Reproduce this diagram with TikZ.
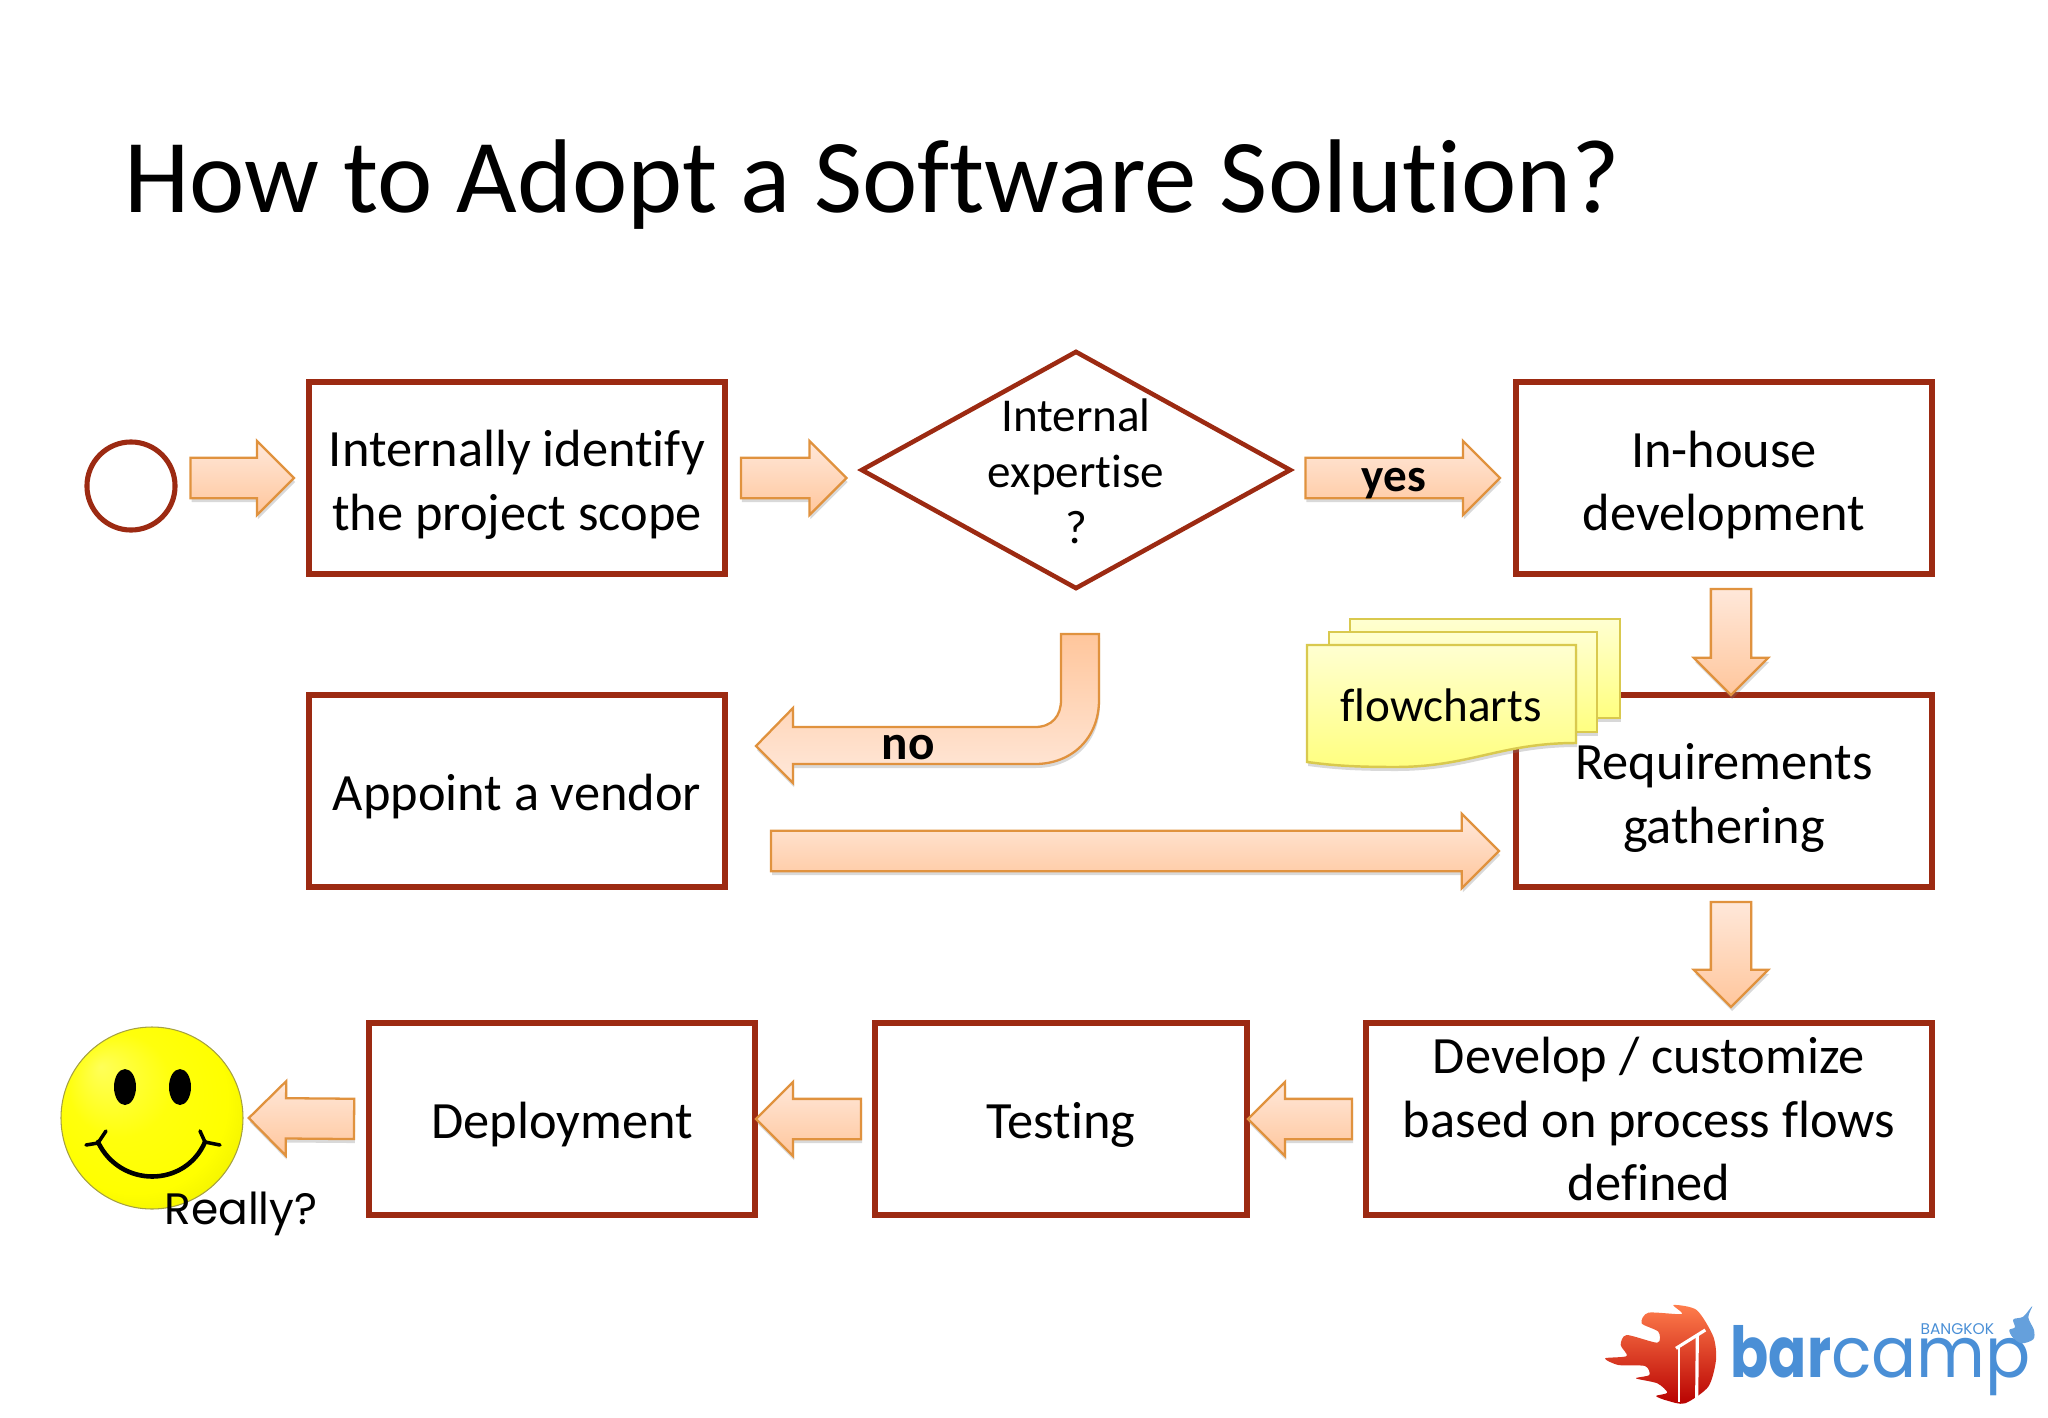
\documentclass[tikz,border=0pt]{standalone}
\usepackage{fontspec}
\setmainfont{Carlito}[Ligatures=NoCommon]
\newfontfamily\logofont{Poppins}
\usetikzlibrary{calc,shapes.geometric,shapes.arrows,shadows}

\definecolor{boxred}{HTML}{9C2A12}
\definecolor{flowline}{HTML}{E0923E}
\definecolor{flowlight}{HTML}{FFE8DA}
\definecolor{flowdark}{HTML}{FFC69C}
\definecolor{noteline}{HTML}{D9C94E}
\definecolor{logoblue}{HTML}{4A8FD6}

\pgfdeclareradialshading{smileball}{\pgfpoint{-.5cm}{.5cm}}{
	color(0cm)=(yellow!65!white); color(.5cm)=(yellow!95!white); color(.9cm)=(yellow); color(1.35cm)=(yellow!88!black)}

\tikzset{
	stepbox/.style={draw=boxred, line width=1.6pt, fill=white, inner sep=0, align=center, font=\fontsize{14.9}{18}\selectfont, execute at begin node=\rule{0pt}{.47cm}},
	twolines/.style={execute at begin node=\rule{0pt}{1.13cm}},
	flowshape/.style={single arrow, single arrow head extend=.17cm, single arrow tip angle=90, minimum width=.72cm, inner sep=0, outer sep=0, anchor=tail,
		draw=flowline, line width=.65pt, top color=flowlight, bottom color=flowdark, drop shadow={shadow xshift=.01cm, shadow yshift=-.04cm, opacity=.3}},
	flowarrow/.style 2 args={to path={let \p1=($(\tikztostart)!#1!(\tikztotarget)$), \p2=($(\tikztotarget)!#2!(\tikztostart)$), \n1={atan2(\y2-\y1,\x2-\x1)}, \n2={veclen(\x2-\x1,\y2-\y1)} in
		node[flowshape, rotate=\n1, minimum height=\n2] at (\p1) {\rule{0pt}{.38cm}} (\tikztotarget)}},
	notepage/.style={draw=noteline, line width=.7pt, top color=yellow!18!white, bottom color=yellow!50!white},
	flowtext/.style={inner sep=0, font=\fontsize{13.4}{15.9}\selectfont, align=center},
	smileline/.style={line width=1pt, line cap=round}
}

\begin{document}
\begin{tikzpicture}[x=.01cm, y=-.01cm]

\useasboundingbox (0,0) rectangle (2048,1418);

\node[inner sep=0, anchor=base west, font=\fontsize{29.8}{32}\selectfont] (title) at (124,212) {How to Adopt a Software Solution?};

\node[circle, draw=boxred, line width=1.45pt, minimum size=.88cm, inner sep=0] (start) at (131,486) {};
\node[stepbox, twolines, minimum width=4.16cm, minimum height=1.92cm] (scope) at (517,478) {Internally identify\\the project scope};
\node[diamond, draw=boxred, line width=1.3pt, fill=white, minimum width=4.3cm, minimum height=2.38cm, inner sep=0] (expertise) at (1076,470) {};
\node[flowtext] (expertisetext) at (1076,471) {Internal\\expertise\\?};
\node[stepbox, twolines, minimum width=4.16cm, minimum height=1.92cm] (inhouse) at (1724,478) {In-house\\development};
\node[stepbox, minimum width=4.16cm, minimum height=1.92cm] (vendor) at (517,791) {Appoint a vendor};
\node[stepbox, twolines, minimum width=4.16cm, minimum height=1.92cm] (require) at (1724,791) {Requirements\\gathering};
\node[stepbox, minimum width=5.66cm, minimum height=1.92cm] (develop) at (1649,1119) {Develop / customize\\based on process flows\\defined};
\node[stepbox, minimum width=3.72cm, minimum height=1.92cm] (testing) at (1061,1119) {Testing};
\node[stepbox, minimum width=3.86cm, minimum height=1.92cm] (deploy) at (562,1119) {Deployment};

\shade[shading=smileball, draw=yellow!60!black, line width=.3pt] (152,1118) circle[radius=91];
\node[circle, inner sep=0, minimum size=1.82cm] (smile) at (152,1118) {};
\fill (125,1087) ellipse[x radius=11, y radius=18];
\fill (180,1087) ellipse[x radius=11, y radius=18];
\draw[smileline, line width=1.3pt] (98,1142) .. controls (120,1188) and (185,1188) .. (205,1142);
\draw[smileline] (86,1145) -- (98,1143) -- (106,1131);
\draw[smileline] (200,1131) -- (205,1142) -- (220,1145);
\node[inner sep=0, anchor=base, font=\logofont\fontsize{12.5}{14}\selectfont] (really) at (241,1224) {Really?};

\coordinate (inhouseout) at (1731,589);
\coordinate (requirein) at (1731,695);
\coordinate (requireout) at (1731,902);
\coordinate (developin) at (1731,1007);
\coordinate (vendorout) at (771,851);
\coordinate (requireleft) at (1499,851);

\draw[flowarrow={.13cm}{.12cm}] (start.east|-scope.west) to (scope.west);
\draw[flowarrow={.13cm}{.12cm}] (scope.east) to (expertise.west|-scope.east);
\draw[flowarrow={.12cm}{.13cm}] (expertise.east|-inhouse.west) to (inhouse.west);
\draw[flowarrow={0cm}{0cm}] (inhouseout) to (requirein);
\draw[flowarrow={0cm}{0cm}] (vendorout) to (requireleft);
\draw[flowarrow={0cm}{0cm}] (requireout) to (developin);
\foreach \a/\b in {develop/testing, testing/deploy}
	\draw[flowarrow={.11cm}{-.02cm}] (\a.west) to (\b.east);
\draw[flowarrow={.12cm}{.05cm}] (deploy.west) to (smile.east);

\shade[draw=flowline, line width=.65pt, top color=flowdark, bottom color=flowlight, drop shadow={shadow xshift=.01cm, shadow yshift=-.04cm, opacity=.3}]
	(1061,634) -- (1099,634) -- (1099,700) .. controls (1099,738) and (1072,764) .. (1035,764) -- (793,764) -- (793,783) -- (756,746) -- (793,708) -- (793,727) -- (1035,727) .. controls (1052,727) and (1061,716) .. (1061,700) -- cycle;

\node[inner sep=0, font=\fontsize{13.4}{15}\bfseries\selectfont] (yes) at (1394,484) {yes};
\node[inner sep=0, font=\fontsize{14}{16}\bfseries\selectfont] (no) at (908,748) {no};

\path[notepage, drop shadow={shadow xshift=.01cm, shadow yshift=-.04cm, opacity=.3}] (1350,619) -- (1620,619) -- (1620,718) -- (1350,718) -- cycle;
\path[notepage, drop shadow={shadow xshift=.01cm, shadow yshift=-.04cm, opacity=.3}] (1329,632) -- (1597,632) -- (1597,732) -- (1329,732) -- cycle;
\path[notepage, drop shadow={shadow xshift=.01cm, shadow yshift=-.04cm, opacity=.3}] (1307,645) -- (1576,645) -- (1576,743) .. controls (1500,743) and (1470,767) .. (1395,767) .. controls (1350,767) and (1330,765) .. (1307,762) -- cycle;
\node[flowtext] (flowcharts) at (1441,705) {flowcharts};

\begin{scope}[shift={(1580,1280)}, scale=.3333]
\shade[top color=orange!55!red!70!white, middle color=red!70!orange, bottom color=red!72!black]
	plot[smooth cycle, tension=.45] coordinates {(280,75) (350,90) (400,170) (408,240) (385,320) (315,370) (262,362) (228,348) (262,338) (232,310) (168,295) (208,285) (195,258) (115,255) (75,235) (140,228) (122,195) (140,165) (232,188) (235,155) (185,130) (205,98) (305,102)};
\draw[white, line width=.5pt] (298,205) -- (298,365);
\draw[white, line width=.9pt] (352,168) -- (350,362);
\draw[white, line width=.9pt] (288,205) -- (376,150);
\node[inner sep=0, anchor=base west, text=logoblue, font=\logofont\fontsize{20}{22}\selectfont] (barcamp) at (450,293) {\scalebox{.8}[1]{\textbf{bar}}\scalebox{.95}[1]{camp}};
\node[inner sep=0, text=logoblue, font=\logofont\fontsize{4.4}{5}\selectfont] (bangkok) at (1132,147) {BANGKOK};
\fill[logoblue!85!white] plot[smooth cycle, tension=.5] coordinates {(1357,78) (1345,112) (1362,150) (1360,178) (1325,190) (1298,172) (1288,150) (1305,142) (1300,118) (1330,110)};
\end{scope}

\end{tikzpicture}
\end{document}
